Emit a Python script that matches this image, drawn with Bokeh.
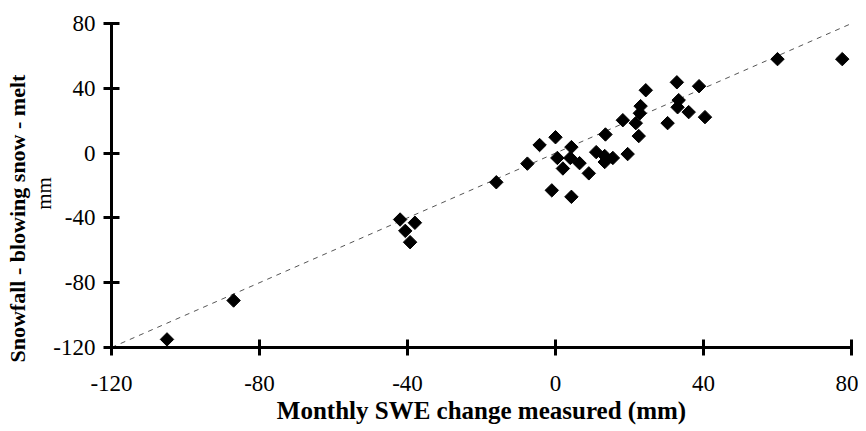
import math
from bokeh.plotting import figure
from bokeh.models import FixedTicker, Range1d, ColumnDataSource, Title
from bokeh.embed import file_html
from bokeh.resources import INLINE

# Monthly SWE change measured (mm)
swe_measured = [-105, -87, -42, -38, -40.6, -39.3, -16, -7.6, -4.3, 0, 4.3, 0.5, 2, 4,
                6.5, 9, -1, 4.3, 11, 13.3, 13.3, 15.5, 19.5, 13.5, 18.2, 21.7, 22.5,
                23, 22.8, 24.4, 30.3, 32.8, 33.3, 33, 36, 38.8, 40.4, 60, 77.5]
# Snowfall - blowing snow - melt (mm)
swe_modelled = [-115, -91, -41, -43, -48, -55, -18, -6.5, 5, 9.8, 3.7, -3, -9.5, -3,
                -6.2, -12.5, -23, -27, 0.6, -1.8, -5.5, -3, -0.6, 11.5, 20.3, 18.5, 10.5,
                29, 24.6, 38.8, 18.5, 43.7, 32.7, 28.3, 25.3, 41.3, 22.2, 58, 58]
one_to_one = [-120, 80]
ticks = [-120, -80, -40, 0, 40, 80]
tick_labels = {t: str(t) for t in ticks}

FONT = "Liberation Serif"

p = figure(output_backend="svg", toolbar_location=None,
           frame_width=740, frame_height=324,
           min_border_left=111, min_border_right=7, min_border_top=23, min_border_bottom=80,
           x_range=Range1d(-120, 80), y_range=Range1d(-120, 80),
           background_fill_color="white", border_fill_color="white")
p.outline_line_color = None
p.grid.visible = False

for ax in (p.xaxis[0], p.yaxis[0]):
    ax.ticker = FixedTicker(ticks=ticks)
    ax.major_label_overrides = tick_labels
    ax.axis_line_width = 3
    ax.axis_line_color = "black"
    ax.major_tick_line_width = 3
    ax.major_tick_line_color = "black"
    ax.major_tick_in = 8
    ax.major_tick_out = 8
    ax.minor_tick_line_color = None
    ax.major_label_text_font = FONT
    ax.major_label_text_font_size = "23px"
    ax.major_label_text_color = "black"

p.yaxis.major_label_standoff = 8
p.yaxis.axis_label = "mm\u00a0\u00a0\u00a0"
p.yaxis.axis_label_text_font = FONT
p.yaxis.axis_label_text_font_size = "21px"
p.yaxis.axis_label_text_font_style = "normal"
p.yaxis.axis_label_text_color = "black"
p.yaxis.axis_label_standoff = -6

p.xaxis.major_label_standoff = 20
p.xaxis.axis_label = "Monthly SWE change measured (mm)"
p.xaxis.axis_label_text_font = FONT
p.xaxis.axis_label_text_font_size = "25px"
p.xaxis.axis_label_text_font_style = "bold"
p.xaxis.axis_label_text_color = "black"
p.xaxis.axis_label_standoff = 3

p.add_layout(Title(text="Snowfall - blowing snow - melt", align="left", offset=-15,
                   standoff=0, text_font=FONT, text_font_size="22px",
                   text_font_style="bold", text_color="black"), "left")

p.line(one_to_one, one_to_one, line_color="#555555", line_width=1, line_dash="5 5")

src = ColumnDataSource(dict(x=swe_measured, y=swe_modelled))
p.scatter("x", "y", source=src, marker="square", angle=math.pi / 4, size=9.5,
          fill_color="black", line_color="black")

open("out.html", "w").write(file_html(p, INLINE))
